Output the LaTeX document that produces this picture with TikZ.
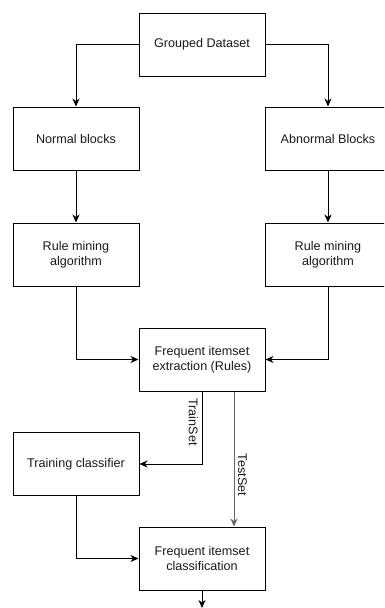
\documentclass[tikz,border=0pt]{standalone}
\usepackage{fontspec}
\setmainfont{Liberation Sans}
\usetikzlibrary{arrows.meta}
\begin{document}
\begin{tikzpicture}[x=1pt,y=-1pt,
  box/.style={draw=black,line width=1pt,minimum width=126pt,minimum height=63pt,inner sep=0pt,align=center,font=\fontsize{12.6}{15}\selectfont,text=black!90},
  conn/.style={draw=black,line width=1pt,-{Stealth[length=8pt,width=7pt,inset=2.5pt]}},
  lbl/.style={font=\fontsize{12.6}{15}\selectfont,text=black!90,inner sep=0pt,rotate=-90}]
\useasboundingbox (0,0) rectangle (384,608);
\begin{scope}
\clip (0,0) rectangle (384,608);
\node[box] (gd) at (202,44.5) {Grouped Dataset};
\node[box] (nb) at (76,138.5) {Normal blocks};
\node[box] (ab) at (328,138.5) {Abnormal Blocks};
\node[box] (rl) at (76,254.5) {Rule mining\\algorithm};
\node[box] (rr) at (328,254.5) {Rule mining\\algorithm};
\node[box] (fe) at (202,359.5) {Frequent itemset\\extraction (Rules)};
\node[box] (tc) at (76,464) {Training classifier};
\node[box] (fc) at (202,558.5) {Frequent itemset\\classification};
\coordinate (out) at (202,608);

\draw[conn] (gd.west) -| (nb.north);
\draw[conn] (gd.east) -| (ab.north);
\draw[conn] (nb.south) -- (rl.north);
\draw[conn] (ab.south) -- (rr.north);
\draw[conn] (rl.south) |- (fe.west);
\draw[conn] (rr.south) |- (fe.east);
\draw[conn] (fe.south) |- (tc.east);
\draw[conn,draw=black!60] ([xshift=32pt]fe.south) -- ([xshift=32pt]fc.north);
\draw[conn] (tc.south) |- (fc.west);
\draw[conn] (fc.south) -- (out);
\node[lbl] (trs) at (193.5,422) {TrainSet};
\node[lbl] (tss) at (242.5,475) {TestSet};
\end{scope}
\end{tikzpicture}
\end{document}
